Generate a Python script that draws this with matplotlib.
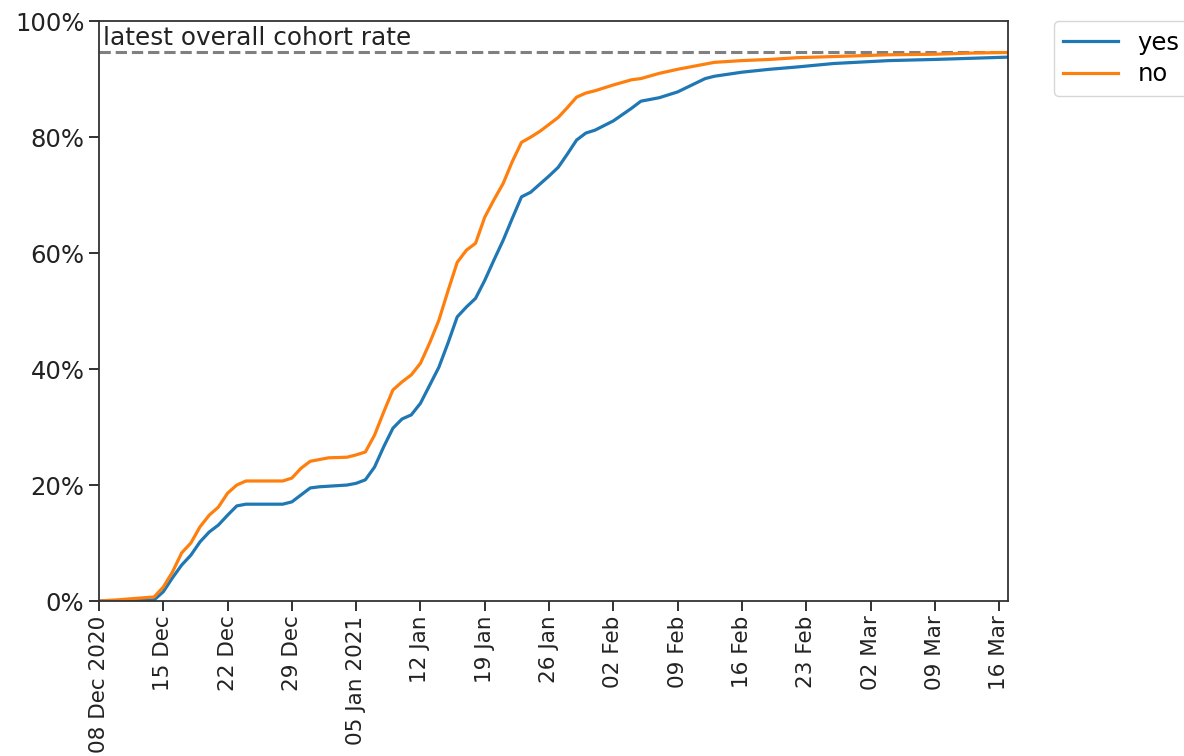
import matplotlib
matplotlib.use("Agg")
import matplotlib.pyplot as plt
import pandas as pd
from matplotlib.ticker import FuncFormatter

#dates of the readings
dates = ["2020-12-08", "2020-12-10", "2020-12-12", "2020-12-14", "2020-12-15", "2020-12-16",
         "2020-12-17", "2020-12-18", "2020-12-19", "2020-12-20", "2020-12-21", "2020-12-22",
         "2020-12-23", "2020-12-24", "2020-12-28", "2020-12-29", "2020-12-30", "2020-12-31",
         "2021-01-01", "2021-01-02", "2021-01-04", "2021-01-05", "2021-01-06", "2021-01-07",
         "2021-01-08", "2021-01-09", "2021-01-10", "2021-01-11", "2021-01-12", "2021-01-13",
         "2021-01-14", "2021-01-15", "2021-01-16", "2021-01-17", "2021-01-18", "2021-01-19",
         "2021-01-20", "2021-01-21", "2021-01-22", "2021-01-23", "2021-01-24", "2021-01-25",
         "2021-01-26", "2021-01-27", "2021-01-28", "2021-01-29", "2021-01-30", "2021-01-31",
         "2021-02-02", "2021-02-04", "2021-02-05", "2021-02-07", "2021-02-09", "2021-02-12",
         "2021-02-13", "2021-02-16", "2021-02-19", "2021-02-22", "2021-02-26", "2021-03-04",
         "2021-03-09", "2021-03-13", "2021-03-17"]

#cumulative rate (%) for each group
yes_rate = [0.0, 0.05, 0.1, 0.2, 1.6, 4.0,
            6.2, 7.9, 10.2, 11.9, 13.1, 14.8,
            16.4, 16.7, 16.7, 17.1, 18.3, 19.5,
            19.7, 19.8, 20.0, 20.3, 20.9, 23.1,
            26.6, 29.8, 31.4, 32.1, 34.1, 37.2,
            40.3, 44.5, 49.0, 50.7, 52.2, 55.3,
            58.8, 62.2, 66.0, 69.7, 70.5, 71.9,
            73.3, 74.8, 77.1, 79.5, 80.7, 81.2,
            82.8, 85.0, 86.2, 86.8, 87.8, 90.1,
            90.5, 91.2, 91.7, 92.1, 92.7, 93.2,
            93.4, 93.6, 93.8]
no_rate = [0.0, 0.2, 0.45, 0.7, 2.4, 5.0,
           8.3, 10.0, 12.8, 14.8, 16.2, 18.6,
           20.0, 20.7, 20.7, 21.2, 22.9, 24.1,
           24.4, 24.7, 24.8, 25.2, 25.7, 28.6,
           32.6, 36.4, 37.8, 39.0, 41.0, 44.5,
           48.4, 53.5, 58.4, 60.5, 61.7, 66.2,
           69.2, 72.0, 75.8, 79.1, 80.0, 81.0,
           82.2, 83.4, 85.1, 86.9, 87.6, 88.0,
           89.0, 89.9, 90.1, 91.0, 91.7, 92.6,
           92.9, 93.2, 93.4, 93.7, 93.9, 94.2,
           94.3, 94.5, 94.6]
overall_rate = 94.7

tick_dates = ["2020-12-08", "2020-12-15", "2020-12-22", "2020-12-29", "2021-01-05", "2021-01-12",
              "2021-01-19", "2021-01-26", "2021-02-02", "2021-02-09", "2021-02-16", "2021-02-23",
              "2021-03-02", "2021-03-09", "2021-03-16"]
tick_labels = ["08 Dec 2020", "15 Dec", "22 Dec", "29 Dec", "05 Jan 2021", "12 Jan",
               "19 Jan", "26 Jan", "02 Feb", "09 Feb", "16 Feb", "23 Feb",
               "02 Mar", "09 Mar", "16 Mar"]

x = pd.to_datetime(dates)

fig = plt.figure(figsize=(11.84, 7.56), dpi=100)
ax = fig.add_axes([0.0836, 0.205, 0.768, 0.767])

ax.plot(x, yes_rate, color="#1f77b4", linewidth=2.3, label="yes")
ax.plot(x, no_rate, color="#ff7f0e", linewidth=2.3, label="no")
ax.axhline(overall_rate, color="grey", linestyle="--", linewidth=2.2, zorder=0)
#label for the dashed reference line
ax.text(0.004, 95.9, "latest overall cohort rate", transform=ax.get_yaxis_transform(),
        fontsize=17.8, color="#222222", va="baseline", ha="left")

ax.set_xlim(x[0], x[-1])
ax.set_ylim(0, 100)
ax.set_xticks(pd.to_datetime(tick_dates))
ax.set_xticklabels(tick_labels, rotation=90, fontsize=15.5)
ax.set_yticks([0, 20, 40, 60, 80, 100])
ax.yaxis.set_major_formatter(FuncFormatter(lambda v, p: f"{v:.0f}%"))
ax.tick_params(axis="y", labelsize=17.5)
ax.tick_params(length=7, width=1.3, colors="#222222")
for s in ax.spines.values():
    s.set_linewidth(1.3)
    s.set_color("#333333")

ax.legend(loc="upper left", bbox_to_anchor=(1.05, 1.0), fontsize=17.5, handlelength=2.25,
          handletextpad=0.8, labelspacing=0.3, borderaxespad=0.0, frameon=True)

fig.savefig("out.png", dpi=100)
